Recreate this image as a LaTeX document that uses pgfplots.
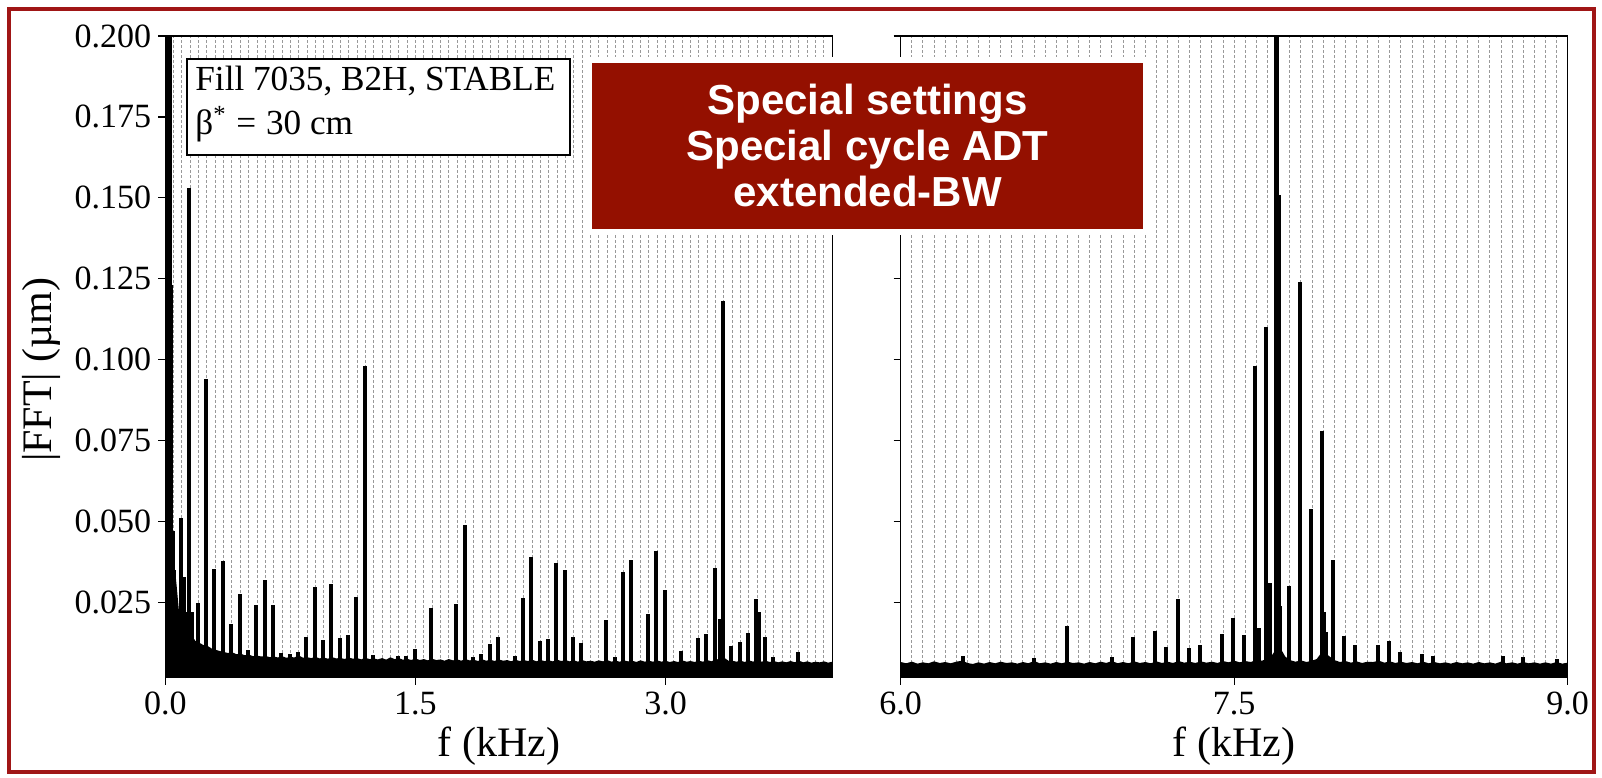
\documentclass[border=0pt]{standalone}
\usepackage{fontspec}
\setmainfont{Liberation Serif}
\newfontfamily\boxfont{Liberation Sans}
\usepackage{pgfplots}
\pgfplotsset{compat=1.18}
\usetikzlibrary{shadows}
\definecolor{framered}{RGB}{160,22,22}
\definecolor{boxred}{RGB}{148,16,0}
\pgfplotsset{fftstyle/.style={
  scale only axis, width=333.5pt, height=320.85pt,
  ymin=0.0018, ymax=0.2,
  ytick={0.025,0.05,0.075,0.1,0.125,0.15,0.175,0.2},
  yticklabels={0.025,0.050,0.075,0.100,0.125,0.150,0.175,0.200},
  tick align=outside, xtick pos=bottom, ytick pos=left,
  major tick length=3.5pt, minor tick length=0pt,
  axis line style={line width=0.6pt},
  every tick/.style={black, line width=0.6pt},
  xminorgrids=true, xmajorgrids=false,
  minor grid style={black!40, line width=0.5pt, dash pattern=on 1.5pt off 1pt},
  tick label style={font=\fontsize{17}{20}\selectfont},
  label style={font=\fontsize{21}{24}\selectfont},
  xlabel={f (kHz)},
  xlabel style={at={(axis description cs:0.5,-0.106)}, anchor=center},
}}
\begin{document}
\begin{tikzpicture}
\begin{axis}[fftstyle, at={(82.65pt,49.65pt)}, anchor=south west,
  xmin=0, xmax=4.0, xtick={0,1.5,3}, xticklabels={0.0,1.5,3.0},
  minor xtick={0.05,0.1,...,3.96},
  ylabel={|FFT| (µm)},
  ylabel style={at={(axis description cs:-0.1864,0.48)}, anchor=center, rotate=0}]
\addplot[fill=black, draw=black, line width=1.4pt] coordinates {
(0.000,0.0105)(0.005,0.030)(0.030,0.045)(0.050,0.0350)(0.060,0.0300)(0.075,0.0215)(0.100,0.0185)(0.125,0.0160)(0.150,0.0148)(0.175,0.0128)
(0.200,0.0122)(0.225,0.0115)(0.250,0.0112)(0.275,0.0104)(0.300,0.0100)(0.325,0.0096)(0.350,0.0093)(0.375,0.0090)
(0.400,0.0092)(0.425,0.0086)(0.450,0.0088)(0.475,0.0083)(0.500,0.0085)(0.525,0.0080)(0.550,0.0082)(0.575,0.0079)
(0.600,0.0081)(0.625,0.0077)(0.650,0.0079)(0.675,0.0076)(0.700,0.0080)(0.725,0.0075)(0.750,0.0078)(0.775,0.0076)
(0.800,0.0082)(0.825,0.0075)(0.850,0.0077)(0.875,0.0074)(0.900,0.0078)(0.925,0.0073)(0.950,0.0076)(0.975,0.0072)
(1.000,0.0077)(1.025,0.0073)(1.050,0.0075)(1.075,0.0071)(1.100,0.0076)(1.125,0.0072)(1.150,0.0074)(1.175,0.0070)
(1.200,0.0075)(1.225,0.0071)(1.250,0.0073)(1.275,0.0070)(1.300,0.0074)(1.325,0.0069)(1.350,0.0076)(1.375,0.0071)
(1.400,0.0074)(1.425,0.0069)(1.450,0.0072)(1.475,0.0068)(1.500,0.0073)(1.525,0.0068)(1.550,0.0071)(1.575,0.0067)
(1.600,0.0072)(1.625,0.0068)(1.650,0.0070)(1.675,0.0066)(1.700,0.0071)(1.725,0.0067)(1.750,0.0070)(1.775,0.0066)
(1.800,0.0071)(1.825,0.0067)(1.850,0.0069)(1.875,0.0065)(1.900,0.0070)(1.925,0.0066)(1.950,0.0069)(1.975,0.0065)
(2.000,0.0070)(2.025,0.0066)(2.050,0.0068)(2.075,0.0064)(2.100,0.0069)(2.125,0.0065)(2.150,0.0068)(2.175,0.0065)
(2.200,0.0069)(2.225,0.0064)(2.250,0.0068)(2.275,0.0065)(2.300,0.0067)(2.325,0.0064)(2.350,0.0069)(2.375,0.0065)
(2.400,0.0068)(2.425,0.0064)(2.450,0.0067)(2.475,0.0063)(2.500,0.0068)(2.525,0.0064)(2.550,0.0066)(2.575,0.0063)
(2.600,0.0067)(2.625,0.0064)(2.650,0.0068)(2.675,0.0063)(2.700,0.0066)(2.725,0.0063)(2.750,0.0067)(2.775,0.0064)
(2.800,0.0066)(2.825,0.0062)(2.850,0.0067)(2.875,0.0063)(2.900,0.0066)(2.925,0.0063)(2.950,0.0067)(2.975,0.0063)
(3.000,0.0066)(3.025,0.0062)(3.050,0.0065)(3.075,0.0062)(3.100,0.0067)(3.125,0.0063)(3.150,0.0065)(3.175,0.0062)
(3.200,0.0066)(3.225,0.0063)(3.250,0.0068)(3.275,0.0064)(3.300,0.0069)(3.325,0.0072)(3.350,0.0075)(3.375,0.0066)
(3.400,0.0066)(3.425,0.0063)(3.450,0.0066)(3.475,0.0062)(3.500,0.0067)(3.525,0.0063)(3.550,0.0068)(3.575,0.0063)
(3.600,0.0066)(3.625,0.0062)(3.650,0.0065)(3.675,0.0061)(3.700,0.0064)(3.725,0.0061)(3.750,0.0065)(3.775,0.0061)
(3.800,0.0066)(3.825,0.0061)(3.850,0.0064)(3.875,0.0060)(3.900,0.0063)(3.925,0.0061)(3.950,0.0064)(3.975,0.0060)
(4.000,0.0063)} \closedcycle;
\addplot[ycomb, black, line width=2pt] coordinates {
(0.004,0.25)(0.010,0.25)(0.016,0.25)(0.022,0.25)(0.028,0.25)(0.035,0.123)(0.045,0.047)(0.055,0.035)
(0.095,0.051)(0.110,0.033)(0.125,0.022)(0.145,0.153)(0.160,0.022)(0.195,0.025)(0.245,0.094)(0.295,0.0355)
(0.345,0.0378)(0.395,0.0183)(0.445,0.0277)(0.495,0.0105)(0.545,0.0242)(0.595,0.0321)(0.645,0.0244)(0.695,0.0095)
(0.745,0.0090)(0.795,0.0098)(0.845,0.0143)(0.895,0.0298)(0.945,0.0133)(0.995,0.0306)(1.045,0.0140)(1.095,0.0150)
(1.145,0.0267)(1.195,0.098)(1.245,0.0088)(1.395,0.0086)(1.445,0.0085)(1.495,0.0108)(1.595,0.0232)(1.745,0.0247)
(1.795,0.049)(1.845,0.0081)(1.895,0.0091)(1.945,0.0122)(1.995,0.0144)(2.095,0.0085)(2.145,0.0264)(2.195,0.0392)
(2.245,0.0132)(2.295,0.0136)(2.345,0.0372)(2.395,0.0350)(2.445,0.0145)(2.495,0.0124)(2.645,0.0196)(2.695,0.0081)
(2.745,0.0344)(2.795,0.0380)(2.895,0.0214)(2.945,0.0410)(2.995,0.0290)(3.095,0.0099)(3.195,0.0140)(3.245,0.0153)
(3.295,0.0357)(3.325,0.0200)(3.345,0.118)(3.395,0.0117)(3.445,0.0129)(3.495,0.0155)(3.545,0.0260)(3.560,0.0220)
(3.595,0.0145)(3.645,0.0083)(3.795,0.0097)};
\end{axis}
\begin{axis}[fftstyle, at={(450.35pt,49.65pt)}, anchor=south west,
  xmin=6, xmax=9, xtick={6,7.5,9}, xticklabels={6.0,7.5,9.0},
  minor xtick={6.05,6.1,...,8.96}, yticklabels={}]
\addplot[fill=black, draw=black, line width=1.4pt] coordinates {
(6.000,0.0062)(6.025,0.0058)(6.050,0.0063)(6.075,0.0057)(6.100,0.0061)(6.125,0.0058)(6.150,0.0064)(6.175,0.0059)
(6.200,0.0062)(6.225,0.0058)(6.250,0.0063)(6.275,0.0066)(6.300,0.0059)(6.325,0.0056)(6.350,0.0061)(6.375,0.0057)
(6.400,0.0062)(6.425,0.0058)(6.450,0.0063)(6.475,0.0059)(6.500,0.0061)(6.525,0.0057)(6.550,0.0062)(6.575,0.0058)
(6.600,0.0065)(6.625,0.0058)(6.650,0.0061)(6.675,0.0057)(6.700,0.0062)(6.725,0.0058)(6.750,0.0063)(6.775,0.0059)
(6.800,0.0061)(6.825,0.0057)(6.850,0.0062)(6.875,0.0058)(6.900,0.0063)(6.925,0.0059)(6.950,0.0065)(6.975,0.0058)
(7.000,0.0062)(7.025,0.0058)(7.050,0.0064)(7.075,0.0059)(7.100,0.0062)(7.125,0.0058)(7.150,0.0064)(7.175,0.0059)
(7.200,0.0063)(7.225,0.0059)(7.250,0.0065)(7.275,0.0060)(7.300,0.0063)(7.325,0.0059)(7.350,0.0064)(7.375,0.0060)
(7.400,0.0063)(7.425,0.0059)(7.450,0.0065)(7.475,0.0061)(7.500,0.0066)(7.525,0.0061)(7.550,0.0065)(7.575,0.0062)
(7.600,0.0068)(7.625,0.0066)(7.650,0.0072)(7.675,0.0085)(7.700,0.0110)(7.725,0.0080)(7.750,0.0068)(7.775,0.0063)
(7.800,0.0067)(7.825,0.0062)(7.850,0.0066)(7.875,0.0072)(7.900,0.0095)(7.925,0.0080)(7.950,0.0068)(7.975,0.0062)
(8.000,0.0065)(8.025,0.0060)(8.050,0.0064)(8.075,0.0059)(8.100,0.0063)(8.125,0.0062)(8.150,0.0066)(8.175,0.0060)
(8.200,0.0064)(8.225,0.0059)(8.250,0.0063)(8.275,0.0059)(8.300,0.0062)(8.325,0.0058)(8.350,0.0063)(8.375,0.0058)
(8.400,0.0062)(8.425,0.0058)(8.450,0.0061)(8.475,0.0057)(8.500,0.0062)(8.525,0.0058)(8.550,0.0061)(8.575,0.0057)
(8.600,0.0062)(8.625,0.0058)(8.650,0.0061)(8.675,0.0057)(8.700,0.0063)(8.725,0.0058)(8.750,0.0061)(8.775,0.0057)
(8.800,0.0062)(8.825,0.0058)(8.850,0.0061)(8.875,0.0057)(8.900,0.0061)(8.925,0.0057)(8.950,0.0062)(8.975,0.0057)
(9.000,0.0060)} \closedcycle;
\addplot[ycomb, black, line width=2pt] coordinates {
(6.280,0.0085)(6.600,0.0080)(6.747,0.0178)(6.950,0.0083)(7.045,0.0143)(7.145,0.0162)(7.195,0.0112)(7.245,0.0262)
(7.295,0.0110)(7.345,0.0120)(7.445,0.0152)(7.495,0.0202)(7.545,0.0150)(7.595,0.098)(7.610,0.017)(7.645,0.110)
(7.660,0.031)(7.688,0.25)(7.694,0.25)(7.700,0.151)(7.707,0.024)(7.745,0.030)(7.795,0.124)(7.845,0.054)(7.895,0.078)
(7.905,0.022)(7.915,0.016)(7.945,0.038)(7.995,0.0148)(8.045,0.0118)(8.145,0.0120)(8.195,0.0132)(8.245,0.0098)
(8.345,0.0090)(8.395,0.0085)(8.710,0.0085)(8.800,0.0083)(8.950,0.0077)};
\end{axis}
% legend-like box
\draw[black, line width=0.6pt, fill=white] (93.5pt,311pt) rectangle (285pt,359pt);
\node[anchor=base west, inner sep=0pt, font=\fontsize{17.6}{20}\selectfont] at (97.5pt,343pt) {Fill 7035, B2H, STABLE};
\node[anchor=base west, inner sep=0pt, font=\fontsize{17.6}{20}\selectfont] at (97.5pt,321pt) {β\textsuperscript{*}\;=\;30 cm};
% red annotation box
\node[fill=boxred, draw=white, line width=3pt, minimum width=278.8pt, minimum height=86.15pt,
  text=white, align=center, inner sep=0pt,
  drop shadow={opacity=0.25, shadow xshift=1.5pt, shadow yshift=-1.5pt},
  font=\boxfont\bfseries\fontsize{21}{23}\selectfont] at (433.75pt,315.55pt)
  {Special settings\\Special cycle ADT\\extended-BW};
% frame
\draw[framered, line width=2pt] (4.5pt,2.5pt) rectangle (797pt,384pt);
\pgfresetboundingbox
\path (0pt,0pt) rectangle (801pt,388.5pt);
\end{tikzpicture}
\end{document}
